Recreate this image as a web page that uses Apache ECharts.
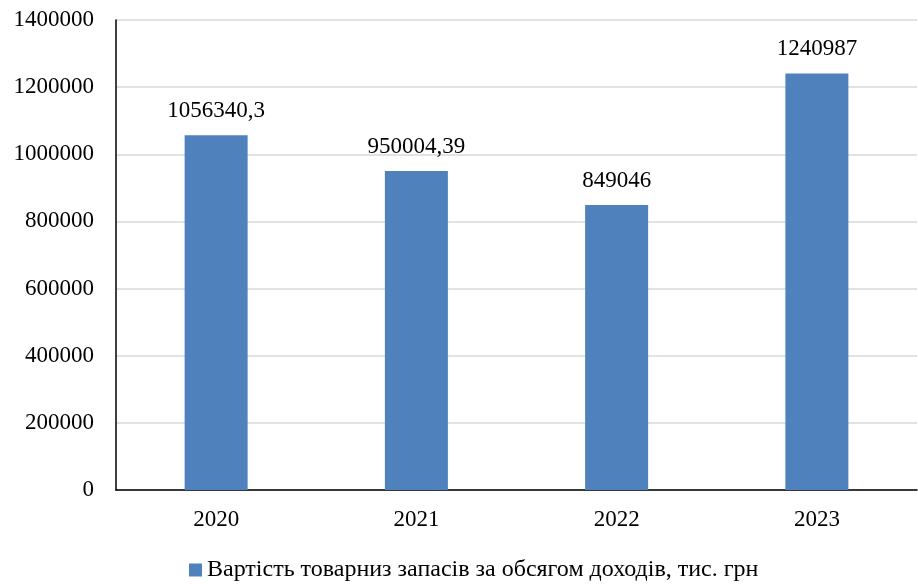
<!DOCTYPE html>
<html>
<head>
<meta charset="utf-8">
<script src="https://cdn.jsdelivr.net/npm/echarts@6/dist/echarts.min.js"></script>
<style>
  html, body { margin: 0; padding: 0; background: #fff; }
  #chart { width: 918px; height: 584px; }
</style>
</head>
<body>
<div id="chart"></div>
<script>
// Yearly values
const years = ['2020', '2021', '2022', '2023'];
const values = [1056340.3, 950004.39, 849046, 1240987];
// Value labels as written (comma decimal separator)
const valueLabels = ['1056340,3', '950004,39', '849046', '1240987'];
const seriesName = 'Вартість товарниз запасів за обсягом доходів, тис. грн';

const FONT = '"Liberation Serif", "Times New Roman", serif';
const FS = 23;

const chart = echarts.init(document.getElementById('chart'));
chart.setOption({
  animation: false,
  backgroundColor: '#ffffff',
  grid: { left: 116, right: 1, top: 20, bottom: 94 },
  legend: {
    bottom: -3,
    left: 184,
    itemWidth: 13,
    itemHeight: 13,
    itemGap: 8,
    icon: 'rect',
    textStyle: { fontFamily: FONT, fontSize: 24, color: '#000' },
    data: [seriesName]
  },
  xAxis: {
    type: 'category',
    data: years,
    axisLine: { lineStyle: { color: '#000', width: 1.5 } },
    axisTick: { show: false },
    axisLabel: { fontFamily: FONT, fontSize: FS, color: '#000', margin: 18 }
  },
  yAxis: {
    type: 'value',
    min: 0,
    max: 1400000,
    interval: 200000,
    axisLine: { show: true, lineStyle: { color: '#000', width: 1.5 } },
    axisTick: { show: false },
    splitLine: { lineStyle: { color: '#d9d9d9', width: 1.5 } },
    axisLabel: {
      fontFamily: FONT, fontSize: FS, color: '#000', margin: 22,
      formatter: v => String(v)
    }
  },
  series: [{
    name: seriesName,
    type: 'bar',
    data: values,
    barWidth: 63,
    itemStyle: { color: '#4f81bd' },
    label: {
      show: true,
      position: 'top',
      distance: 13,
      fontFamily: FONT,
      fontSize: FS,
      color: '#000',
      formatter: p => valueLabels[p.dataIndex]
    }
  }]
});
</script>
</body>
</html>
